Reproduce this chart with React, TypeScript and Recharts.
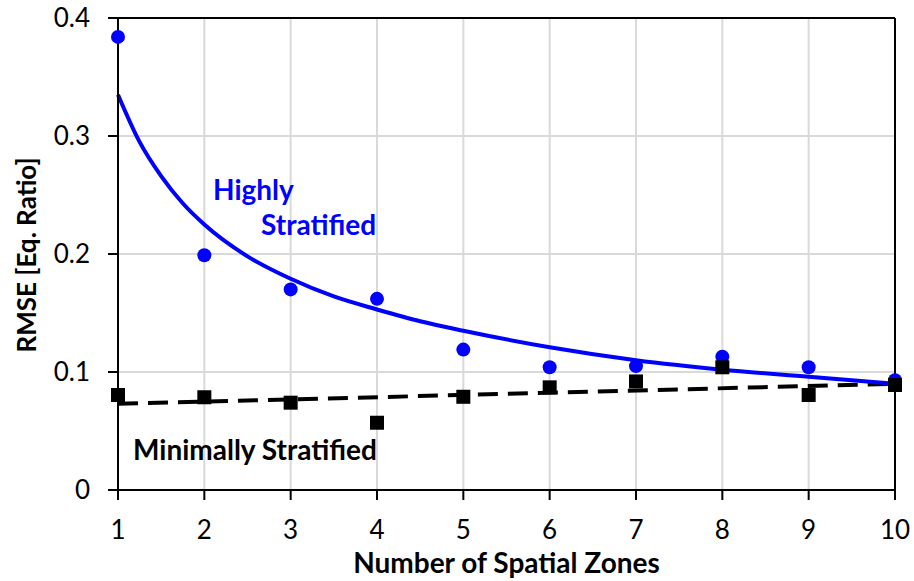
import React from 'react';
import { ComposedChart, Scatter, Line, XAxis, YAxis, CartesianGrid, ReferenceLine } from 'recharts';

const zones = [1, 2, 3, 4, 5, 6, 7, 8, 9, 10];
const highlyRmse = [0.384, 0.199, 0.17, 0.162, 0.119, 0.104, 0.105, 0.113, 0.104, 0.093];
const minimallyRmse = [0.0805, 0.0786, 0.074, 0.057, 0.079, 0.087, 0.092, 0.104, 0.0805, 0.089];

// trendlines
const highlyTrendX = [1, 1.25, 1.5, 1.75, 2, 2.5, 3, 3.5, 4, 4.5, 5, 6, 7, 8, 9, 10];
const highlyTrendY = [0.335, 0.295, 0.266, 0.243, 0.225, 0.198, 0.179, 0.164, 0.153, 0.143, 0.135, 0.121, 0.11, 0.102, 0.096, 0.09];
const minimallyTrendX = [1, 10];
const minimallyTrendY = [0.073, 0.09];

const xTicks = [1, 2, 3, 4, 5, 6, 7, 8, 9, 10];
const yTicks = [0, 0.1, 0.2, 0.3, 0.4];

const FONT = 'Lato, "Noto Sans", sans-serif';

const highlyPts = zones.map((x, i) => ({ x, y: highlyRmse[i] }));
const minimallyPts = zones.map((x, i) => ({ x, y: minimallyRmse[i] }));
const highlyTrend = highlyTrendX.map((x, i) => ({ x, y: highlyTrendY[i] }));
const minimallyTrend = minimallyTrendX.map((x, i) => ({ x, y: minimallyTrendY[i] }));

const Square = (props: any) => {
  const { cx, cy } = props;
  if (cx == null || cy == null) return null;
  return <rect x={cx - 7} y={cy - 7} width={14} height={14} fill="#000" />;
};

const Dot = (props: any) => {
  const { cx, cy } = props;
  if (cx == null || cy == null) return null;
  return <circle cx={cx} cy={cy} r={7} fill="#0000ff" />;
};

const tickStyle = { fill: '#000', fontSize: 26, fontFamily: FONT };

const note = (color: string, size: number) => ({
  position: 'absolute' as const,
  color,
  fontFamily: FONT,
  fontWeight: 700,
  fontSize: size,
  lineHeight: '34px',
  whiteSpace: 'nowrap' as const,
});

export default function App() {
  return (
    <div style={{ position: 'absolute', left: 0, top: 0, width: 914, height: 581, background: '#fff' }}>
      <ComposedChart width={914} height={581} margin={{ top: 18, right: 19, bottom: 0, left: 0 }}>
        <CartesianGrid stroke="#d9d9d9" strokeWidth={2} />
        <XAxis
          type="number"
          dataKey="x"
          domain={[1, 10]}
          ticks={xTicks}
          height={91}
          stroke="#000"
          strokeWidth={2}
          tickSize={10}
          tickMargin={21}
          tick={tickStyle}
          tickLine={{ stroke: '#000', strokeWidth: 2 }}
        />
        <YAxis
          type="number"
          dataKey="y"
          domain={[0, 0.4]}
          ticks={yTicks}
          width={118}
          stroke="#000"
          strokeWidth={2}
          tickSize={10}
          tickMargin={18}
          tick={tickStyle}
          tickLine={{ stroke: '#000', strokeWidth: 2 }}
          tickFormatter={(v: number) => String(v)}
        />
        <ReferenceLine y={0.4} stroke="#000" strokeWidth={2} />
        <ReferenceLine x={10} stroke="#000" strokeWidth={2} />
        <Scatter data={highlyPts} shape={<Dot />} isAnimationActive={false} />
        <Scatter data={minimallyPts} shape={<Square />} isAnimationActive={false} />
        <Line data={minimallyTrend} dataKey="y" type="linear" stroke="#000" strokeWidth={4} strokeDasharray="20 10" dot={false} activeDot={false} isAnimationActive={false} />
        <Line data={highlyTrend} dataKey="y" type="monotone" stroke="#0000ff" strokeWidth={4} dot={false} activeDot={false} isAnimationActive={false} />
      </ComposedChart>
      <div style={{ ...note('#0000ff', 28), left: 213, top: 172 }}>Highly</div>
      <div style={{ ...note('#0000ff', 28), left: 261, top: 207 }}>Stratified</div>
      <div style={{ ...note('#000', 28), left: 133, top: 432 }}>Minimally Stratified</div>
      <div style={{ ...note('#000', 28), left: 118, width: 777, top: 545, textAlign: 'center' }}>Number of Spatial Zones</div>
      <div style={{ ...note('#000', 26), left: 26, top: 255, transform: 'translate(-50%, -50%) rotate(-90deg)' }}>RMSE [Eq. Ratio]</div>
    </div>
  );
}
